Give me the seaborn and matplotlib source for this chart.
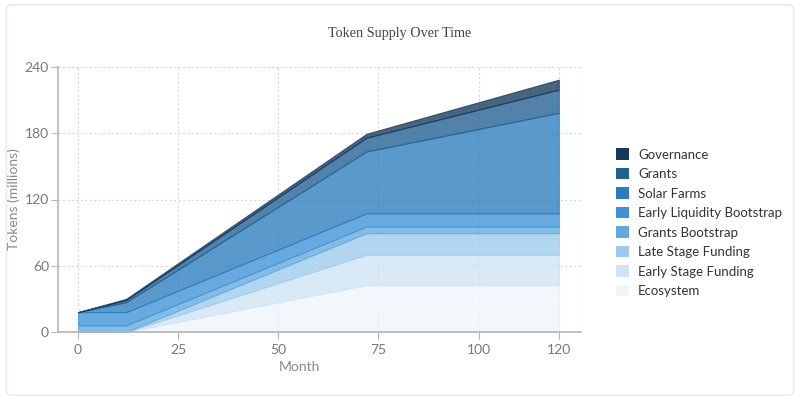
import matplotlib
matplotlib.use("Agg")
import matplotlib.pyplot as plt
from matplotlib.patches import FancyBboxPatch
import seaborn as sns
import pandas as pd

# data (millions of tokens)
months = [0, 12, 72, 120]
ecosystem = [0, 0, 42.5, 42.5]
early_stage = [0, 0, 27.5, 27.5]
late_stage = [0, 0, 19.5, 19.5]
grants_bootstrap = [6, 6, 6, 6]
early_liquidity = [12, 12, 12, 12]
solar_farms = [0, 9, 56, 91]
grants = [0, 2, 12.5, 21]
governance = [0, 1, 3.5, 9]

series_names = ["Ecosystem", "Early Stage Funding", "Late Stage Funding", "Grants Bootstrap",
                "Early Liquidity Bootstrap", "Solar Farms", "Grants", "Governance"]
colors = ["#eef5fb", "#cfe3f4", "#9dcbec", "#62a9de", "#3e93d6", "#2a7cbd", "#215f92", "#15395b"]
x_ticks = [0, 25, 50, 75, 100, 120]
y_ticks = [0, 60, 120, 180, 240]

df = pd.DataFrame({
    "Month": months,
    "Ecosystem": ecosystem,
    "Early Stage Funding": early_stage,
    "Late Stage Funding": late_stage,
    "Grants Bootstrap": grants_bootstrap,
    "Early Liquidity Bootstrap": early_liquidity,
    "Solar Farms": solar_farms,
    "Grants": grants,
    "Governance": governance,
})

sns.set_style("white")
plt.rcParams["font.family"] = ["Lato", "DejaVu Sans"]

fig = plt.figure(figsize=(8, 4), dpi=100)
fig.patches.append(FancyBboxPatch((0.008, 0.012), 0.984, 0.976, boxstyle="round,pad=0,rounding_size=0.01",
                                  transform=fig.transFigure, fill=False, edgecolor="#ece9e0", linewidth=1))
ax = fig.add_axes([0.0725, 0.17, 0.6535, 0.6625])

ys = [df[name] for name in series_names]
polys = ax.stackplot(df["Month"], *ys, colors=colors, alpha=0.78, zorder=2)
for p, c in zip(polys, colors):
    p.set_edgecolor(c)
    p.set_linewidth(0.8)

ax.set_xlim(-5, 125.5)
ax.set_ylim(0, 240)
ax.set_xticks(x_ticks)
ax.set_yticks(y_ticks)
ax.grid(True, color="#d8d8d8", linestyle=(0, (2, 2)), linewidth=0.8, zorder=0)
ax.set_axisbelow(True)

for s in ["top", "right"]:
    ax.spines[s].set_visible(False)
ax.axvline(125.5, color="#d8d8d8", linestyle=(0, (2, 2)), linewidth=0.8, zorder=0)
for s in ["left", "bottom"]:
    ax.spines[s].set_color("#b5b5b5")
    ax.spines[s].set_linewidth(1.2)

ax.tick_params(axis="both", which="both", length=5, width=0.8, color="#b5b5b5",
               labelsize=10, labelcolor="#777777", direction="out", left=True, bottom=True)
ax.tick_params(axis="y", pad=1.5)
ax.set_xlabel("Month", fontsize=10, color="#888888")
ax.set_ylabel("Tokens (millions)", fontsize=10, color="#888888")
ax.xaxis.set_label_coords(0.462, -0.11)
ax.yaxis.set_label_coords(-0.072, 0.5)

fig.text(0.5, 0.915, "Token Supply Over Time", ha="center", va="center", fontsize=10.2,
         color="#444444", family=["Liberation Serif", "DejaVu Serif"])

# legend, top entry first
handles = [plt.Rectangle((0, 0), 1, 1, facecolor=c, edgecolor="none") for c in colors][::-1]
labels = series_names[::-1]
leg = fig.legend(handles, labels, loc="upper left", bbox_to_anchor=(0.764, 0.642), frameon=False,
                 fontsize=9.5, handlelength=0.95, handleheight=0.95, handletextpad=0.7,
                 labelspacing=0.55, borderaxespad=0)
for t in leg.get_texts():
    t.set_color("#333333")

fig.savefig("out.png", dpi=100)
